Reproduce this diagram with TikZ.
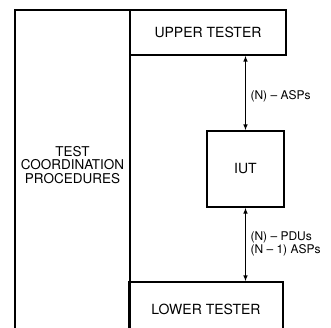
\documentclass[tikz,border=0pt]{standalone}
\usepackage{fontspec}
\setmainfont{TeX Gyre Heros}
\usetikzlibrary{arrows.meta}
\begin{document}
\begin{tikzpicture}[x=1pt, y=1pt, line width=1.1pt,
  box/.style={draw, rectangle, inner sep=0pt, font=\fontsize{14}{14}\selectfont},
  sap/.style={arrows={Latex[length=6pt, width=4.5pt]-Latex[length=6pt, width=4.5pt]}},
  lbl/.style={font=\fontsize{12}{13}\selectfont, inner sep=0pt, align=left}]
  % Page size of the scanned figure
  \useasboundingbox (0,0) rectangle (331,327);
  \clip (0,0) rectangle (331,327);

  % Test coordination procedures: tall box, open at the bottom
  \coordinate (TL) at (15,317);
  \coordinate (TR) at (130,317);
  \draw (15,-10) -- (TL) -- (TR) -- (130,-10);
  \node[align=center, font=\fontsize{13.5}{13.5}\selectfont] (tcp) at (72.5,162)
    {TEST\\COORDINATION\\PROCEDURES};

  % Upper tester, IUT and lower tester
  \node[box, minimum width=156, minimum height=45] (upper) at (208,294.5) {UPPER TESTER};
  \node[box, minimum width=77, minimum height=76] (iut) at (245.5,158) {IUT};
  \node[box, minimum width=154, minimum height=55] (lower) at (206,17.5) {LOWER TESTER};

  % Service primitives between the blocks
  \draw[sap] (iut.north) -- (iut.north |- upper.south);
  \draw[sap] (iut.south) -- (iut.south |- lower.north);

  % Labels of the exchanges
  \node[lbl, anchor=base west] (asps) at (250,227) {(N) -- ASPs};
  \node[lbl, anchor=north west] (pdus) at (250,96) {(N) -- PDUs\\(N -- 1) ASPs};
\end{tikzpicture}
\end{document}
